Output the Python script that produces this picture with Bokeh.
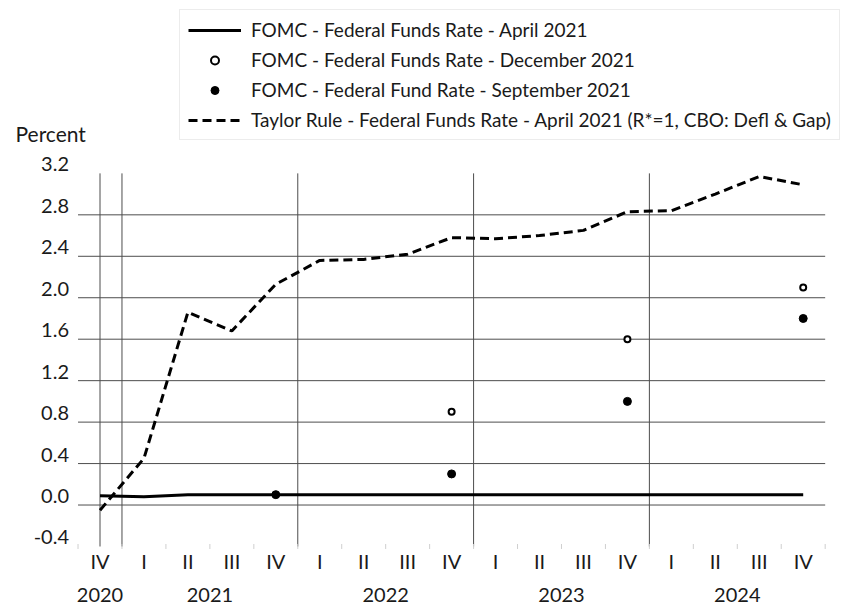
import math
from bokeh.plotting import figure
from bokeh.models import (Range1d, Legend, LegendItem, Label)
from bokeh.embed import file_html
from bokeh.resources import INLINE

# ---------------- data ----------------
quarters = ["IV", "I", "II", "III", "IV", "I", "II", "III", "IV",
            "I", "II", "III", "IV", "I", "II", "III", "IV"]
years = [2020, 2021, 2021, 2021, 2021, 2022, 2022, 2022, 2022,
         2023, 2023, 2023, 2023, 2024, 2024, 2024, 2024]

fomc_apr2021 = [0.09, 0.08, 0.1, 0.1, 0.1, 0.1, 0.1, 0.1, 0.1,
                0.1, 0.1, 0.1, 0.1, 0.1, 0.1, 0.1, 0.1]
taylor_apr2021 = [-0.05, 0.45, 1.86, 1.68, 2.13, 2.36, 2.37, 2.42, 2.58,
                  2.57, 2.60, 2.65, 2.83, 2.84, 3.00, 3.17, 3.09]
dec2021_idx = [8, 12, 16]
dec2021_vals = [0.9, 1.6, 2.1]
sep2021_idx = [4, 8, 12, 16]
sep2021_vals = [0.1, 0.3, 1.0, 1.8]

y_ticks = [-0.4, 0.0, 0.4, 0.8, 1.2, 1.6, 2.0, 2.4, 2.8, 3.2]
grid_ticks = [0.0, 0.4, 0.8, 1.2, 1.6, 2.0, 2.4, 2.8]

labels = ["FOMC - Federal Funds Rate - April 2021",
          "FOMC - Federal Funds Rate - December 2021",
          "FOMC - Federal Fund Rate - September 2021",
          "Taylor Rule - Federal Funds Rate - April 2021 (R*=1, CBO: Defl & Gap)"]
y_title = "Percent"

FONT = "Lato"
TXT = "#1a1a1a"
GRID = "#4d4d4d"

x_idx = list(range(len(quarters)))
x_lo, x_hi = -0.5, len(quarters) - 0.5
y_lo, y_hi = y_ticks[0], y_ticks[-1]

# the frame spans the whole canvas; the plot area proper is bounded by
# the gridlines / year lines drawn from the data ranges below
p = figure(width=842, height=609, output_backend="svg", toolbar_location=None,
           x_range=Range1d(-2.264, 16.894), y_range=Range1d(-1.008, 4.868),
           x_axis_location=None, y_axis_location=None,
           min_border_left=0, min_border_right=0, min_border_top=0,
           min_border_bottom=0)
p.outline_line_color = None
p.background_fill_color = "white"
p.border_fill_color = "white"
for g in p.grid:
    g.visible = False

# horizontal gridlines
p.segment(x0=[x_lo] * len(grid_ticks), x1=[x_hi] * len(grid_ticks),
          y0=grid_ticks, y1=grid_ticks, line_color=GRID, line_width=1)

# vertical lines: first category and year boundaries
vlines = [0] + [i - 0.5 for i in range(1, len(years)) if years[i] != years[i - 1]]
p.segment(x0=vlines, x1=vlines, y0=[y_lo] * len(vlines), y1=[y_hi] * len(vlines),
          line_color=GRID, line_width=1)

# small category separator ticks on the bottom edge
sep_x = [i - 0.5 for i in range(len(quarters) + 1)]
p.scatter(x=sep_x, y=[y_lo] * len(sep_x), marker="dash", angle=math.pi / 2,
          size=5, line_color="#cfcfcf", line_width=1)

# y tick labels
p.text(x=[x_lo] * len(y_ticks), y=y_ticks, text=[f"{t:.1f}" for t in y_ticks],
       x_offset=-9, y_offset=-9, text_align="right", text_baseline="middle",
       text_font={"value": FONT}, text_font_size="20px", text_color=TXT)

# quarter labels
p.text(x=x_idx, y=[y_lo] * len(x_idx), text=quarters, y_offset=15,
       text_align="center", text_baseline="middle",
       text_font={"value": FONT}, text_font_size="20px", text_color=TXT)

# year labels
uniq_years = sorted(set(years))
year_pos = [sum(i for i in x_idx if years[i] == y) / years.count(y) for y in uniq_years]
p.text(x=year_pos, y=[y_lo] * len(year_pos), text=[str(y) for y in uniq_years],
       y_offset=49, text_align="center", text_baseline="middle",
       text_font={"value": FONT}, text_font_size="20px", text_color=TXT)

# series
r_apr = p.line(x_idx, fomc_apr2021, line_color="black", line_width=3)
r_tay = p.line(x_idx, taylor_apr2021, line_color="black", line_width=3,
               line_dash="9 5")
r_dec = p.scatter(dec2021_idx, dec2021_vals, marker="circle", size=6,
                  fill_color="white", line_color="black", line_width=2)
r_sep = p.scatter(sep2021_idx, sep2021_vals, marker="circle", size=8,
                  fill_color="black", line_color="black")

legend = Legend(items=[LegendItem(label=labels[0], renderers=[r_apr]),
                       LegendItem(label=labels[1], renderers=[r_dec]),
                       LegendItem(label=labels[2], renderers=[r_sep]),
                       LegendItem(label=labels[3], renderers=[r_tay])],
                location=(179, 469), orientation="vertical",
                border_line_color="#d9d9d9", border_line_width=1,
                background_fill_color="white", background_fill_alpha=1,
                padding=8, spacing=7, label_height=20, glyph_height=20,
                glyph_width=53, label_standoff=10, margin=0,
                label_text_font=FONT, label_text_font_size="19px",
                label_text_color=TXT)
p.add_layout(legend)

p.add_layout(Label(x=15, y=476, x_units="screen", y_units="screen", text=y_title,
                   text_font=FONT, text_font_size="21px", text_color=TXT,
                   text_baseline="middle", text_align="left"))

open("out.html", "w").write(file_html(p, INLINE))
